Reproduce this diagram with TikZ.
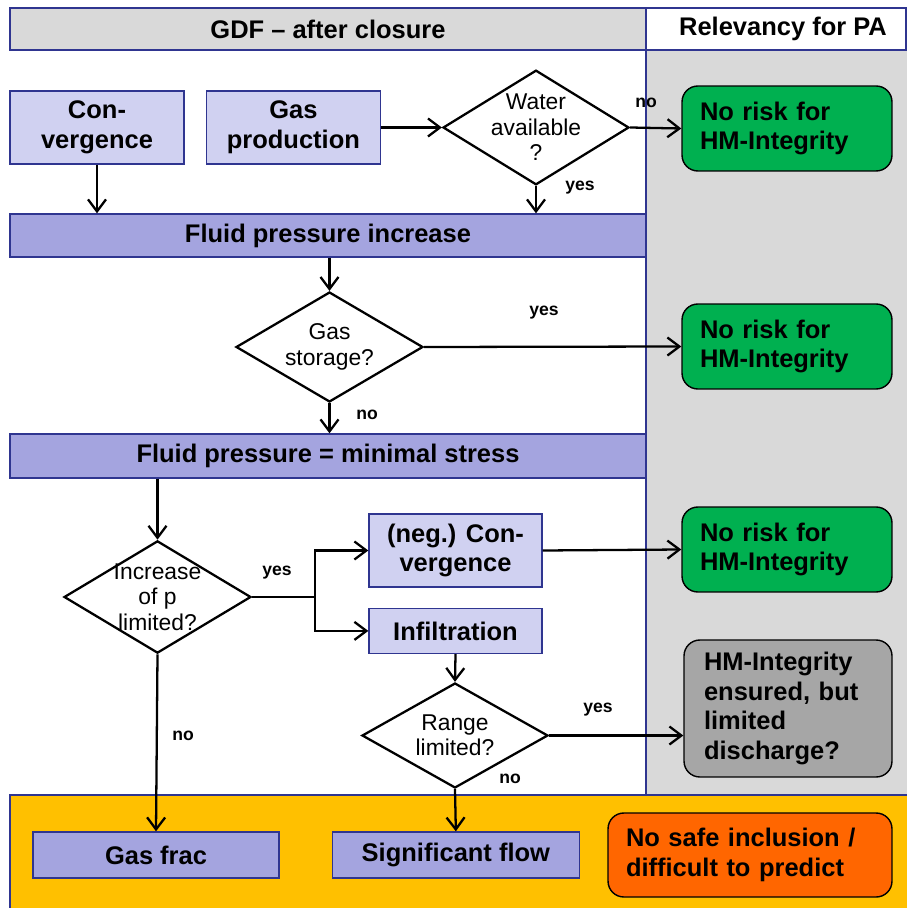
\documentclass[tikz,border=0pt]{standalone}
\usepackage{fontspec}
\setmainfont{Liberation Sans}
\usetikzlibrary{positioning, arrows.meta, shapes.geometric}
\definecolor{navy}{HTML}{2F3590}
\definecolor{lilac}{HTML}{D0D1F1}
\definecolor{lilacdk}{HTML}{A4A4DF}
\definecolor{lanegray}{HTML}{D9D9D9}
\definecolor{okgreen}{HTML}{00B050}
\definecolor{midgray}{HTML}{A6A6A6}
\definecolor{amberbg}{HTML}{FFC000}
\definecolor{alarm}{HTML}{FF6600}
\tikzset{
  lbox/.style={draw=navy, line width=0.8pt, fill=lilac, align=center,
               font=\fontsize{14.5}{17}\selectfont\bfseries, inner sep=2pt},
  bar/.style={lbox, fill=lilacdk, minimum width=12.72cm},
  ask/.style={diamond, draw, line width=1.3pt, fill=white, align=center,
              inner sep=-6pt, font=\fontsize{13}{14.5}\selectfont},
  verdict/.style={rounded corners=9pt, draw, line width=0.8pt, align=left,
                  font=\fontsize{14.5}{17}\selectfont\bfseries, inner xsep=0.36cm},
  flow/.style={-{Straight Barb[length=2.4mm, width=3.6mm]}, line width=1.3pt},
  tag/.style={font=\fontsize{10}{12}\selectfont\bfseries},
}
\begin{document}
\begin{tikzpicture}[x=0.02cm, y=-0.02cm]
  \useasboundingbox (0,0) rectangle (907,908);
  % lanes
  \fill[lanegray] (646,50) rectangle (907,795);
  \fill[amberbg] (10,795) rectangle (907,908);
  \draw[navy, line width=0.8pt, fill=lanegray] (10,8) rectangle (646,50);
  \draw[navy, line width=0.8pt] (646,8) rectangle (906,50);
  \draw[navy, line width=0.8pt] (646,50) -- (646,795);
  \draw[navy, line width=0.8pt] (10,908) -- (10,795) -- (907,795);
  \node[font=\fontsize{14.5}{17}\selectfont\bfseries] (gdf) at (328,29)
    {GDF -- after closure};
  \node[font=\fontsize{14.5}{17}\selectfont\bfseries] (pa) at (783,29)
    {Relevancy for PA};

  % left lane
  \node[lbox, minimum width=3.48cm, minimum height=1.46cm]
    (conv) at (97,127.5) {Con-\\vergence};
  \node[lbox, minimum width=3.48cm, minimum height=1.46cm, right=0.42cm of conv]
    (gasprod) {Gas\\production};
  \node[ask, minimum width=3.72cm, minimum height=2.18cm]
    (water) at (536,127.5) {Water\\available\\?};
  \node[bar, minimum height=0.86cm] (incr) at (328,235.5) {Fluid pressure increase};
  \node[ask, minimum width=3.74cm, minimum height=2.2cm]
    (storage) at (329.5,347) {Gas\\storage?};
  \node[bar, minimum height=0.88cm] (minstress) at (328,456)
    {Fluid pressure = minimal stress};
  \node[ask, minimum width=3.74cm, minimum height=2.16cm]
    (plimit) at (157.5,597) {Increase\\of p\\limited?};
  \node[lbox, minimum width=3.46cm, minimum height=1.46cm]
    (negconv) at (455.5,550.5) {(neg.) Con-\\vergence};
  \node[lbox, minimum width=3.46cm, minimum height=0.9cm, below=0.4cm of negconv]
    (infil) {Infiltration};
  \node[ask, minimum width=3.72cm, minimum height=2.1cm]
    (range) at (455,735.5) {Range\\limited?};
  \node[lbox, fill=lilacdk, minimum width=4.92cm, minimum height=0.92cm]
    (frac) at (156,855) {Gas frac};
  \node[lbox, fill=lilacdk, minimum width=4.94cm, minimum height=0.92cm,
        right=1.04cm of frac] (sigflow) {Significant flow};
  \coordinate (fork) at (315,597);

  % right lane
  \node[verdict, fill=okgreen, text width=3.48cm, minimum height=1.7cm]
    (ok1) at (787,128.5) {No risk for\\HM-Integrity};
  \node[verdict, fill=okgreen, text width=3.48cm, minimum height=1.7cm]
    (ok2) at (787,346.5) {No risk for\\HM-Integrity};
  \node[verdict, fill=okgreen, text width=3.48cm, minimum height=1.7cm]
    (ok3) at (787,549.5) {No risk for\\HM-Integrity};
  \node[verdict, fill=midgray, text width=3.36cm, minimum height=2.74cm,
        inner xsep=0.4cm] (partial) at (788,708.5)
    {HM-Integrity\\ensured, but\\limited\\discharge?};
  \node[verdict, fill=alarm, text width=4.96cm, minimum height=1.68cm]
    (unsafe) at (750,855) {No safe inclusion /\\difficult to predict};

  % connectors
  \draw[flow] (conv.south) -- (conv.south |- incr.north);
  \draw[flow] (gasprod.east) -- (water.west);
  \draw[flow] (water.east) -- (ok1.west);
  \draw[flow] (water.south) -- (water.south |- incr.north);
  \draw[flow] (incr.south -| storage.north) -- (storage.north);
  \draw[flow] (storage.east) -- (ok2.west);
  \draw[flow] (storage.south) -- (storage.south |- minstress.north);
  \draw[flow] (minstress.south -| plimit.north) -- (plimit.north);
  \draw[line width=1.3pt] (plimit.east) -- (fork);
  \draw[flow] (fork) |- (negconv.west);
  \draw[flow] (fork) |- (infil.west);
  \draw[flow] (negconv.east) -- (ok3.west);
  \draw[flow] (infil.south) -- (range.north);
  \draw[flow] (range.east) -- (range.east -| partial.west);
  \draw[flow] (range.south) -- (sigflow.north);
  \draw[flow] (plimit.south) -- (frac.north);

  \node[tag] (no1) at (646,103) {no};
  \node[tag] (yes1) at (580,188) {yes};
  \node[tag] (yes2) at (544,313) {yes};
  \node[tag] (no2) at (367,415) {no};
  \node[tag] (yes3) at (277,573) {yes};
  \node[tag] (yes4) at (598,710) {yes};
  \node[tag] (no3) at (510,779) {no};
  \node[tag] (no4) at (183,736) {no};
\end{tikzpicture}
\end{document}
